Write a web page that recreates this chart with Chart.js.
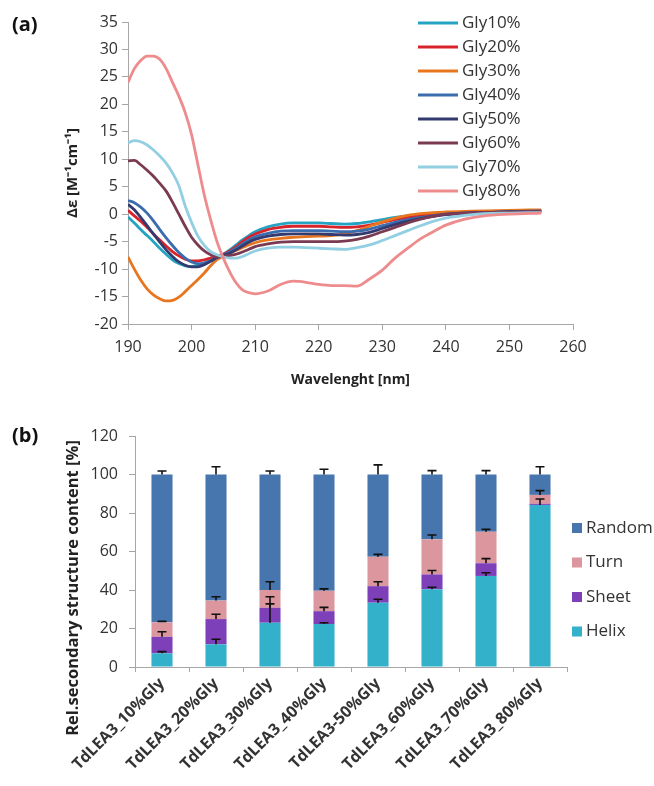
<!DOCTYPE html>
<html>
<head>
<meta charset="utf-8">
<script src="https://cdn.jsdelivr.net/npm/chart.js@4"></script>
<style>
  body { margin: 0; background: #fff; }
  .wrap { position: relative; width: 654px; height: 786px; overflow: hidden; }
  .panel { position: absolute; left: 12px; font: bold 20px "Open Sans", sans-serif; color: #111; line-height: 27px; }
  #chartA { position: absolute; left: 0; top: 0; }
  #chartB { position: absolute; left: 0; top: 400px; }
</style>
</head>
<body>
<div class="wrap">
  <canvas id="chartA" width="654" height="400"></canvas>
  <canvas id="chartB" width="654" height="386"></canvas>
  <div class="panel" style="top:10px">(a)</div>
  <div class="panel" style="top:421px">(b)</div>
</div>
<script>
// ---- panel (a): CD spectra ----
const wavelengths = [190, 191, 192, 193, 194, 195, 196, 197, 198, 199, 200,
  201, 202, 203, 204, 205, 206, 207, 208, 209, 210,
  212, 214, 216, 218, 220, 222, 224, 226, 228, 230, 232, 234, 236, 238, 240,
  243, 246, 250, 255];

const gly10 = [-0.5, -1.6, -2.8, -3.9, -5.0, -6.2, -7.3, -8.3, -9.0, -9.4, -9.5,
  -9.3, -8.9, -8.4, -7.9, -7.3, -6.5, -5.6, -4.7, -3.9, -3.2,
  -2.3, -1.8, -1.6, -1.6, -1.6, -1.7, -1.8, -1.7, -1.4, -1.0, -0.6, -0.3, -0.1, 0.1, 0.2,
  0.3, 0.4, 0.5, 0.6];
const gly20 = [0.7, -0.3, -1.3, -2.4, -3.6, -4.7, -5.8, -6.8, -7.6, -8.2, -8.5,
  -8.5, -8.3, -8.0, -7.7, -7.3, -6.7, -5.9, -5.0, -4.2, -3.6,
  -2.8, -2.4, -2.2, -2.2, -2.2, -2.3, -2.4, -2.3, -2.0, -1.5, -1.0, -0.6, -0.3, 0.0, 0.2,
  0.3, 0.4, 0.5, 0.6];
const gly30 = [-7.8, -10.0, -12.0, -13.6, -14.7, -15.4, -15.8, -15.7, -15.1, -14.1, -13.0,
  -11.9, -10.7, -9.4, -8.3, -7.6, -7.1, -6.6, -6.1, -5.6, -5.2,
  -4.7, -4.4, -4.2, -4.1, -4.0, -3.9, -3.6, -3.0, -2.2, -1.4, -0.7, -0.2, 0.1, 0.3, 0.4,
  0.5, 0.6, 0.7, 0.8];
const gly40 = [2.5, 2.1, 1.3, 0.2, -1.2, -2.8, -4.3, -5.7, -7.0, -8.0, -8.7,
  -9.0, -8.9, -8.5, -7.9, -7.4, -6.9, -6.2, -5.4, -4.7, -4.1,
  -3.5, -3.1, -3.0, -3.0, -3.0, -3.1, -3.2, -3.1, -2.7, -2.1, -1.5, -1.0, -0.6, -0.3, 0.0,
  0.2, 0.3, 0.5, 0.6];
const gly50 = [1.8, 0.8, -0.6, -2.1, -3.6, -5.1, -6.5, -7.7, -8.7, -9.3, -9.6,
  -9.6, -9.2, -8.6, -7.9, -7.5, -7.1, -6.5, -5.8, -5.1, -4.6,
  -4.0, -3.7, -3.6, -3.6, -3.6, -3.7, -3.8, -3.7, -3.3, -2.6, -1.9, -1.3, -0.8, -0.4, -0.1,
  0.2, 0.3, 0.4, 0.5];
const gly60 = [9.7, 9.8, 9.0, 8.0, 6.9, 5.6, 4.2, 2.2, 0.0, -2.2, -4.2,
  -5.6, -6.7, -7.4, -7.8, -7.7, -7.5, -7.3, -6.9, -6.4, -5.9,
  -5.4, -5.1, -5.0, -5.0, -5.0, -5.0, -4.9, -4.6, -4.0, -3.2, -2.4, -1.6, -0.9, -0.4, 0.0,
  0.2, 0.3, 0.4, 0.5];
const gly70 = [13.0, 13.4, 13.2, 12.6, 11.7, 10.6, 9.3, 7.5, 5.2, 1.5, -1.5,
  -4.0, -5.7, -6.8, -7.4, -7.8, -8.0, -8.0, -7.7, -7.2, -6.7,
  -6.2, -6.0, -6.0, -6.1, -6.2, -6.3, -6.4, -6.1, -5.6, -4.8, -3.9, -3.0, -2.1, -1.3, -0.7,
  -0.2, 0.1, 0.2, 0.3];
const gly80 = [24.0, 26.5, 28.0, 28.8, 28.8, 28.2, 26.5, 24.0, 21.5, 18.5, 14.5,
  9.0, 3.5, -1.0, -5.0, -8.0, -10.5, -12.5, -13.8, -14.3, -14.5,
  -14.0, -12.8, -12.2, -12.4, -12.8, -13.0, -13.0, -13.1, -11.8, -10.2, -8.0, -6.2, -4.5, -3.2, -2.0,
  -0.9, -0.3, 0.0, 0.2];

const lineNames = ['Gly10%', 'Gly20%', 'Gly30%', 'Gly40%', 'Gly50%', 'Gly60%', 'Gly70%', 'Gly80%'];
const lineSeries = [gly10, gly20, gly30, gly40, gly50, gly60, gly70, gly80];
const lineColors = ['#25a3c3', '#d9232b', '#e8761f', '#3b6cad', '#333a70', '#7a3a52', '#93cfe2', '#ee8b8d'];

// ---- panel (b): secondary structure ----
const samples = ['TdLEA3_10%Gly', 'TdLEA3_20%Gly', 'TdLEA3_30%Gly', 'TdLEA3_40%Gly',
  'TdLEA3-50%Gly', 'TdLEA3_60%Gly', 'TdLEA3_70%Gly', 'TdLEA3_80%Gly'];
const helix  = [7.1, 11.8, 23.0, 22.3, 33.4, 40.4, 47.3, 84.2];
const sheet  = [8.6, 13.1, 7.8, 6.7, 8.6, 7.7, 6.6, 0.6];
const turn   = [7.5, 9.6, 9.2, 10.6, 15.3, 18.2, 16.4, 4.6];
const random = [76.8, 65.5, 60.0, 60.4, 42.7, 33.7, 29.7, 10.6];
const helixErr  = [0.9, 2.6, 13.5, 0.7, 1.8, 1.0, 1.7, 3.1];
const sheetErr  = [2.6, 2.5, 2.0, 2.0, 2.3, 2.0, 2.4, 0];
const turnErr   = [0.5, 2.0, 4.3, 1.0, 1.2, 2.3, 1.2, 2.2];
const randomErr = [1.8, 4.0, 1.8, 2.7, 5.0, 2.0, 2.0, 4.0];

const FONT = '"Open Sans", sans-serif';
const textColor = '#333';
const axisGray = '#a6a6a6';
const tickFont = { family: FONT, size: 16 };

// legend for the spectra, drawn inside the plot
const lineLegend = {
  id: 'lineLegend',
  afterDraw(chart) {
    const ctx = chart.ctx;
    ctx.save();
    ctx.font = '17px ' + FONT;
    ctx.textBaseline = 'middle';
    chart.data.datasets.forEach((ds, i) => {
      const y = 23 + i * 24;
      ctx.strokeStyle = ds.borderColor;
      ctx.lineWidth = 3;
      ctx.beginPath();
      ctx.moveTo(418, y);
      ctx.lineTo(458, y);
      ctx.stroke();
      ctx.fillStyle = textColor;
      ctx.fillText(ds.label, 462, y);
    });
    ctx.restore();
  }
};

new Chart(document.getElementById('chartA'), {
  type: 'line',
  data: {
    datasets: lineSeries.map((vals, i) => ({
      label: lineNames[i],
      data: wavelengths.map((w, k) => ({ x: w, y: vals[k] })),
      borderColor: lineColors[i],
      borderWidth: 2.8,
      pointRadius: 0,
      cubicInterpolationMode: 'monotone',
      order: -i
    }))
  },
  options: {
    responsive: false,
    animation: false,
    devicePixelRatio: 1,
    layout: { padding: { left: 60, right: 81, top: 22, bottom: 0 } },
    plugins: { legend: { display: false }, tooltip: { enabled: false } },
    scales: {
      x: {
        type: 'linear', min: 190, max: 260,
        ticks: { stepSize: 10, font: tickFont, color: textColor, padding: 8 },
        grid: { drawOnChartArea: false, tickLength: 6, color: axisGray },
        border: { color: axisGray },
        title: { display: true, text: 'Wavelenght [nm]', color: '#222',
          font: { family: FONT, size: 14, weight: 'bold' }, padding: { top: 0, bottom: 12 } },
        afterFit: s => { s.height = 76; }
      },
      y: {
        min: -20, max: 35,
        ticks: { stepSize: 5, font: tickFont, color: textColor, padding: 4 },
        grid: { drawOnChartArea: false, tickLength: 6, color: axisGray },
        border: { color: axisGray },
        title: { display: true, text: 'Δε [M⁻¹cm⁻¹]', color: '#222',
          font: { family: FONT, size: 15, weight: 'bold' }, padding: { top: 4, bottom: 0 } },
        afterFit: s => { s.width = 68; }
      }
    }
  },
  plugins: [lineLegend]
});

// error bars above each stacked segment
const errorBars = {
  id: 'errorBars',
  afterDatasetsDraw(chart) {
    const ctx = chart.ctx;
    const yScale = chart.scales.y;
    ctx.save();
    ctx.strokeStyle = '#111';
    ctx.lineWidth = 1.6;
    chart.data.datasets.forEach((ds, i) => {
      chart.getDatasetMeta(i).data.forEach((bar, j) => {
        const err = ds.errors[j];
        if (!err) return;
        const ey = yScale.getPixelForValue(yScale.getValueForPixel(bar.y) + err);
        ctx.beginPath();
        ctx.moveTo(bar.x, bar.y);
        ctx.lineTo(bar.x, ey);
        ctx.moveTo(bar.x - 4.5, ey);
        ctx.lineTo(bar.x + 4.5, ey);
        ctx.stroke();
      });
    });
    ctx.restore();
  }
};

const barLegend = {
  id: 'barLegend',
  afterDraw(chart) {
    const ctx = chart.ctx;
    const sets = chart.data.datasets.slice().reverse();
    ctx.save();
    ctx.font = '17px ' + FONT;
    ctx.textBaseline = 'middle';
    sets.forEach((ds, i) => {
      const y = 128 + i * 34.5;
      ctx.fillStyle = ds.backgroundColor;
      ctx.fillRect(572, y - 5, 10, 10);
      ctx.fillStyle = textColor;
      ctx.fillText(ds.label, 586, y);
    });
    ctx.restore();
  }
};

const barYTitle = {
  id: 'barYTitle',
  afterDraw(chart) {
    const ctx = chart.ctx;
    ctx.save();
    ctx.translate(73, 188);
    ctx.rotate(-Math.PI / 2);
    ctx.font = 'bold 16.5px ' + FONT;
    ctx.fillStyle = '#222';
    ctx.textAlign = 'center';
    ctx.textBaseline = 'middle';
    ctx.fillText('Rel.secondary structure content [%]', 0, 0);
    ctx.restore();
  }
};

new Chart(document.getElementById('chartB'), {
  type: 'bar',
  data: {
    labels: samples,
    datasets: [
      { label: 'Helix', data: helix, errors: helixErr, backgroundColor: '#33b0ca' },
      { label: 'Sheet', data: sheet, errors: sheetErr, backgroundColor: '#7e40b9' },
      { label: 'Turn', data: turn, errors: turnErr, backgroundColor: '#dc969d' },
      { label: 'Random', data: random, errors: randomErr, backgroundColor: '#4776ae' }
    ]
  },
  options: {
    responsive: false,
    animation: false,
    devicePixelRatio: 1,
    layout: { padding: { left: 0, right: 87, top: 36, bottom: 0 } },
    datasets: { bar: { barPercentage: 0.39, categoryPercentage: 1.0 } },
    plugins: { legend: { display: false }, tooltip: { enabled: false } },
    scales: {
      x: {
        stacked: true,
        ticks: { minRotation: 45, maxRotation: 45, autoSkip: false,
          font: { family: FONT, size: 16, weight: 'bold' }, color: textColor, padding: 2 },
        grid: { drawOnChartArea: false, tickLength: 5, color: axisGray, offset: true },
        border: { color: axisGray },
        afterFit: s => { s.height = 119; }
      },
      y: {
        stacked: true, min: 0, max: 120,
        ticks: { stepSize: 20, font: tickFont, color: textColor, padding: 11 },
        grid: { drawOnChartArea: false, tickLength: 6, color: axisGray },
        border: { color: axisGray },
        afterFit: s => { s.width = 135; }
      }
    }
  },
  plugins: [errorBars, barLegend, barYTitle]
});
</script>
</body>
</html>
